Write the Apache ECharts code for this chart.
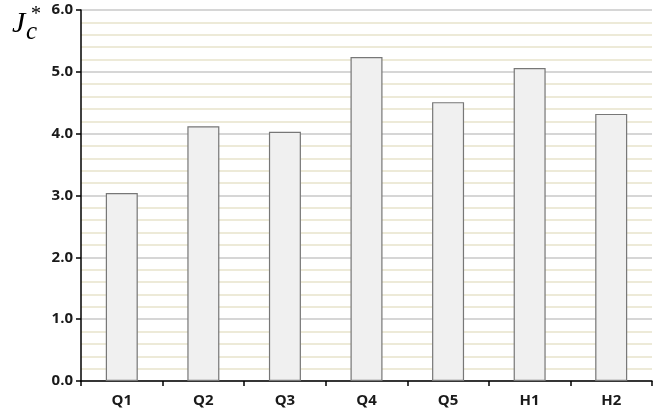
<!DOCTYPE html>
<html><head><meta charset="utf-8">
<script src="https://cdn.jsdelivr.net/npm/echarts@6/dist/echarts.min.js"></script>
<style>html,body{margin:0;padding:0;background:#fff}#c{width:658px;height:413px}</style>
</head><body><div id="c"></div>
<script>
const categories = ['Q1','Q2','Q3','Q4','Q5','H1','H2'];
const values = [3.04, 4.12, 4.03, 5.24, 4.51, 5.06, 4.32];
const yTicks = [0, 1, 2, 3, 4, 5, 6];

const chart = echarts.init(document.getElementById('c'));
chart.setOption({
  animation: false,
  grid: {left: 81, right: 6, top: 10, bottom: 32},
  xAxis: {
    type: 'category', data: categories,
    axisLine: {lineStyle: {color: '#000', width: 1.5}},
    axisTick: {show: true, length: 5, lineStyle: {color: '#000', width: 1.5}},
    axisLabel: {color: '#1a1a1a', fontWeight: 'bold', fontSize: 15, fontFamily: 'Open Sans', margin: 12}
  },
  yAxis: {
    type: 'value', min: yTicks[0], max: yTicks[yTicks.length-1], interval: 1,
    axisLine: {show: true, lineStyle: {color: '#000', width: 1.5}},
    axisTick: {show: true, length: 5, lineStyle: {color: '#000', width: 1.5}},
    axisLabel: {color: '#1a1a1a', fontWeight: 'bold', fontSize: 15, fontFamily: 'Open Sans', margin: 8,
      formatter: v => v.toFixed(1)},
    splitLine: {show: true, lineStyle: {color: '#c8c8c8', width: 1.5}},
    minorTick: {show: false, splitNumber: 5},
    minorSplitLine: {show: true, lineStyle: {color: '#e8e4cc', width: 1.5}}
  },
  series: [{
    type: 'bar', data: values, barWidth: 32,
    itemStyle: {color: '#f0f0f0', borderColor: '#777', borderWidth: 1.2}
  }],
  graphic: [
    {type: 'text', x: 12, y: 9, style: {text: 'J', font: 'italic 30px "Liberation Serif"', fill: '#000'}},
    {type: 'text', x: 31, y: 5, style: {text: '*', font: '20px "Liberation Serif"', fill: '#000'}},
    {type: 'text', x: 26, y: 20, style: {text: 'c', font: 'italic 25px "Liberation Serif"', fill: '#000'}}
  ]
});
</script></body></html>
